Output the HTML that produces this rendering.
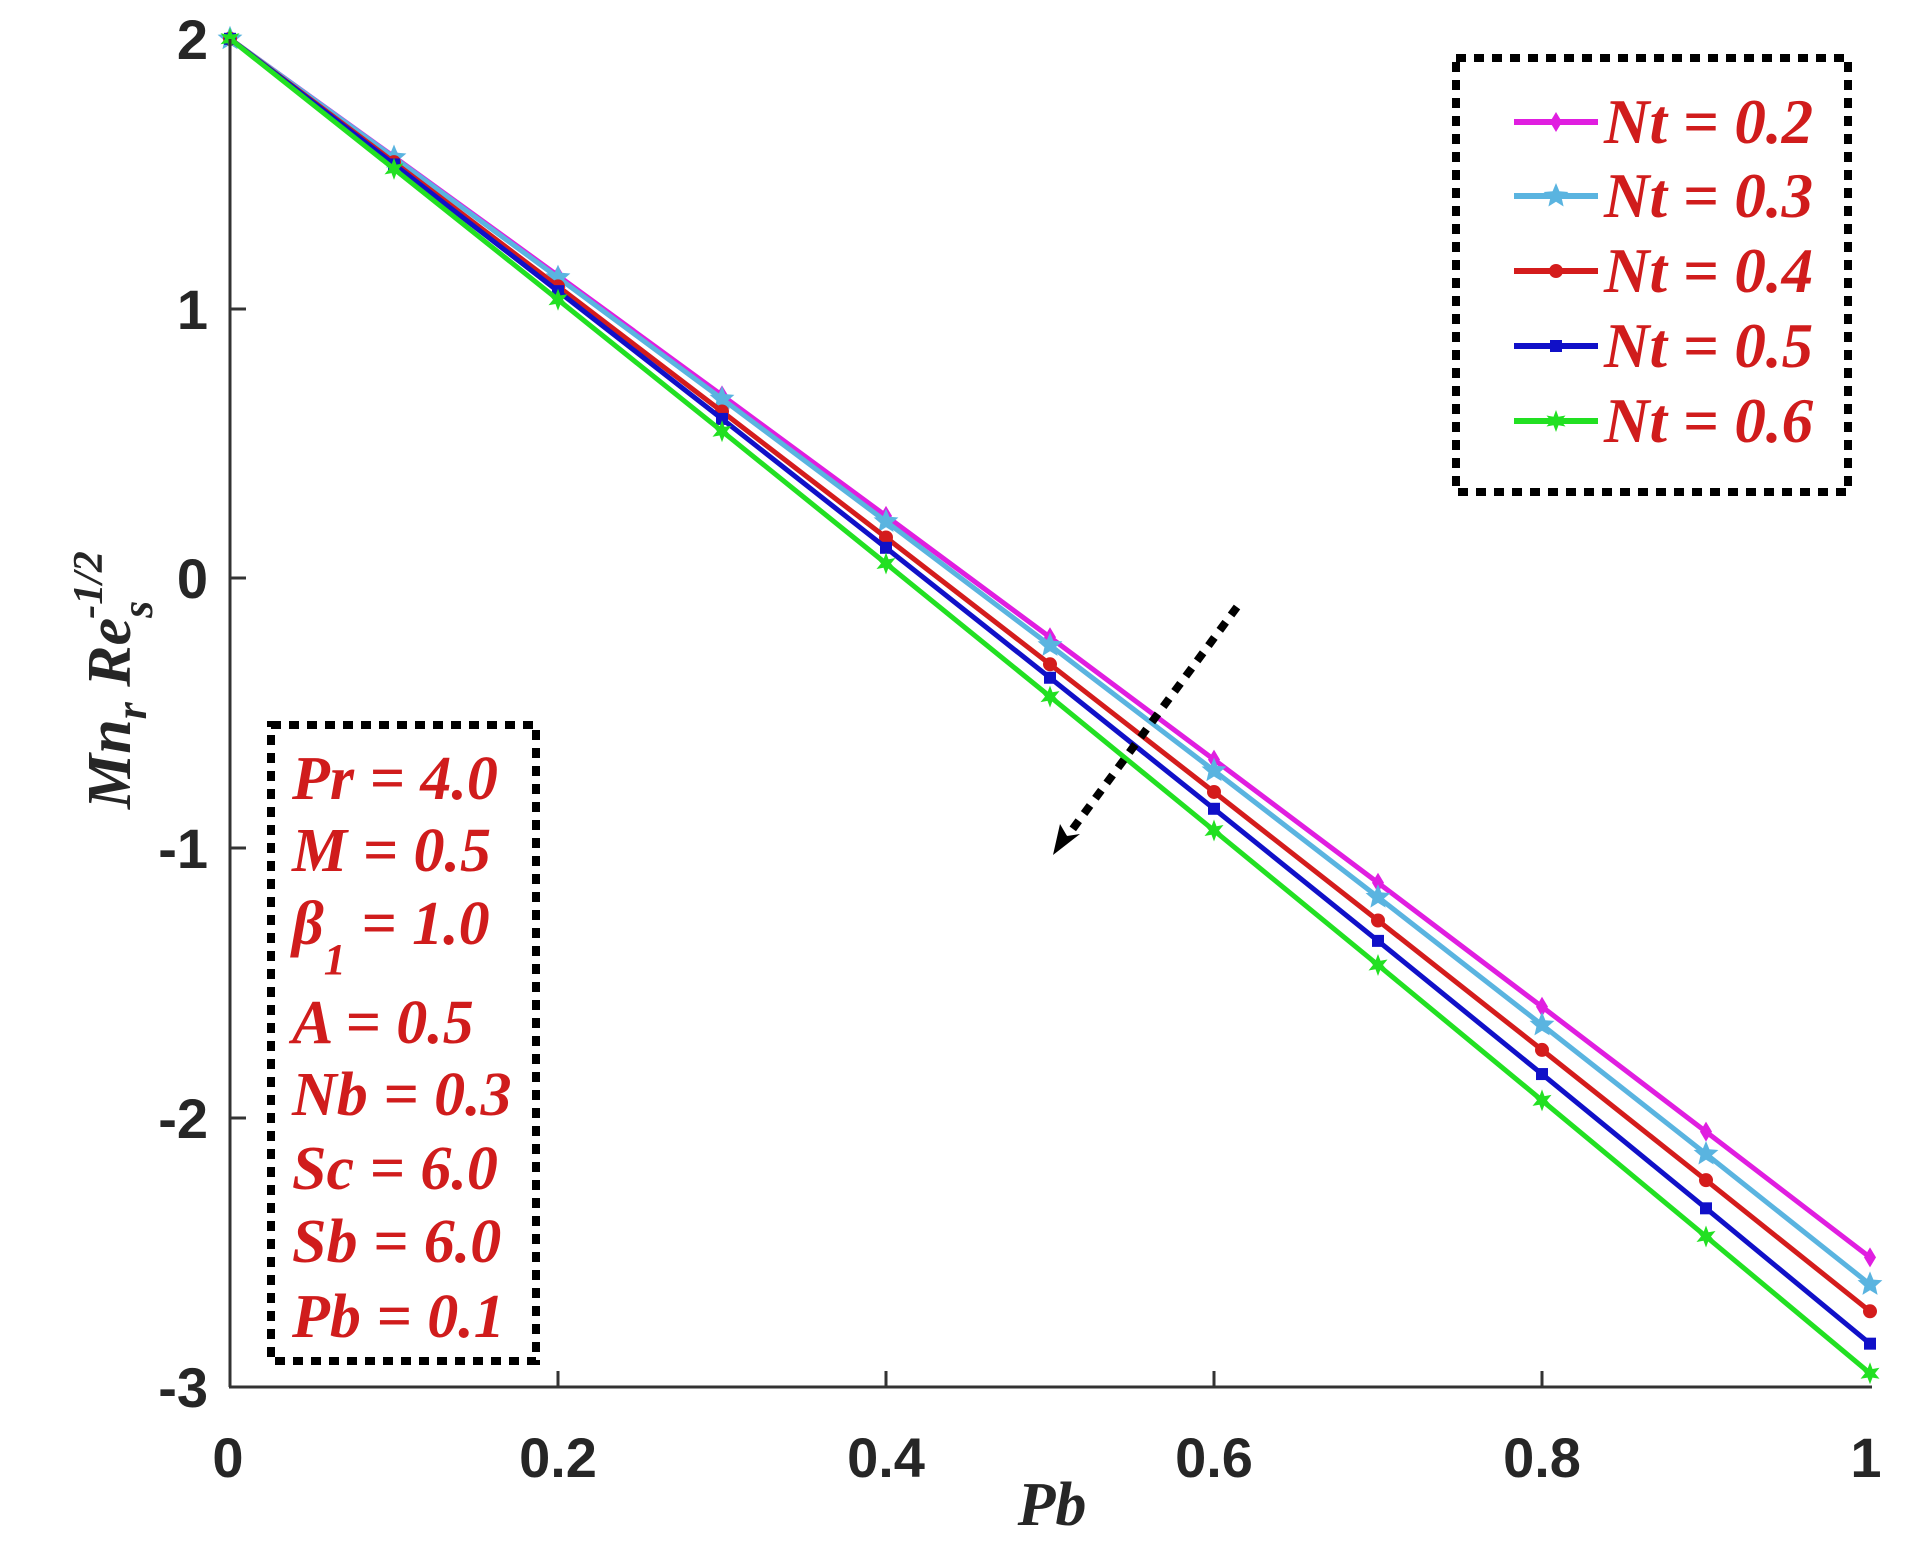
<!DOCTYPE html>
<html><head><meta charset="utf-8">
<style>
html,body{margin:0;padding:0;background:#fff;}
svg{display:block;}
.tk{font-family:"Liberation Sans",sans-serif;font-weight:bold;font-size:56px;fill:#262626;}
.it{font-family:"Liberation Serif",serif;font-style:italic;font-weight:bold;}
.red{fill:#d01c1c;}
</style></head><body>
<svg id="s" width="1910" height="1564" xmlns="http://www.w3.org/2000/svg">
<rect width="1910" height="1564" fill="#fff"/>
<g id="series"></g>
<line x1="230" y1="39" x2="230" y2="1387" stroke="#333" stroke-width="3"/>
<line x1="229" y1="1387" x2="1872" y2="1387" stroke="#333" stroke-width="3"/>
<g stroke="#333" stroke-width="3">
<line x1="230" y1="309" x2="246" y2="309"/><line x1="230" y1="578" x2="246" y2="578"/>
<line x1="230" y1="848" x2="246" y2="848"/><line x1="230" y1="1118" x2="246" y2="1118"/>
<line x1="558" y1="1387" x2="558" y2="1371"/><line x1="886" y1="1387" x2="886" y2="1371"/>
<line x1="1214" y1="1387" x2="1214" y2="1371"/><line x1="1542" y1="1387" x2="1542" y2="1371"/>
</g>
<g class="tk" text-anchor="end">
<text x="208" y="59">2</text><text x="208" y="329">1</text><text x="208" y="598">0</text>
<text x="208" y="868">-1</text><text x="208" y="1138">-2</text><text x="208" y="1407">-3</text>
</g>
<g class="tk" text-anchor="middle">
<text x="228" y="1477">0</text><text x="558" y="1477">0.2</text><text x="886" y="1477">0.4</text>
<text x="1214" y="1477">0.6</text><text x="1542" y="1477">0.8</text><text x="1866" y="1477">1</text>
</g>
<text class="it" x="1052" y="1525" font-size="62" text-anchor="middle" fill="#262626">Pb</text>
<g transform="translate(130,680) rotate(-90)">
<text class="it" font-size="62" fill="#262626" text-anchor="middle">Mn<tspan font-size="44" dy="16">r</tspan><tspan dy="-16"> Re</tspan><tspan font-size="44" dy="22">s</tspan><tspan font-size="42" dx="-18" dy="-50">-1/2</tspan></text>
</g>
<line x1="1237" y1="607" x2="1066" y2="838" stroke="#000" stroke-width="8" stroke-dasharray="10,9"/>
<polygon points="1053,855 1060,824 1067,836 1080,834" fill="#000"/>
<rect x="1456" y="58" width="392" height="434" fill="#fff" stroke="#000" stroke-width="8" stroke-dasharray="10,8"/>
<g id="leg"></g>
<rect x="271" y="725" width="265" height="636" fill="#fff" stroke="#000" stroke-width="8" stroke-dasharray="10,8"/>
<g class="it red" font-size="62">
<text x="292" y="799">Pr = 4.0</text>
<text x="292" y="871">M = 0.5</text>
<text x="292" y="944">β<tspan font-size="44" dy="30">1</tspan><tspan dy="-30"> = 1.0</tspan></text>
<text x="292" y="1043">A = 0.5</text>
<text x="292" y="1115">Nb = 0.3</text>
<text x="292" y="1189">Sc = 6.0</text>
<text x="292" y="1262">Sb = 6.0</text>
<text x="292" y="1337">Pb = 0.1</text>
</g>
</svg>
<script>
var NS="http://www.w3.org/2000/svg";
function X(v){return 230+v*1640;}
function Y(v){return 578-v*269.6;}
var ser=[
 {c:"#e01ee0",b:-4.36,q:-0.16,m:"d",lab:"0.2"},
 {c:"#5ab4e0",b:-4.38,q:-0.24,m:"p",lab:"0.3"},
 {c:"#d41c1c",b:-4.56,q:-0.16,m:"o",lab:"0.4"},
 {c:"#1010c8",b:-4.64,q:-0.20,m:"s",lab:"0.5"},
 {c:"#22e022",b:-4.81,q:-0.14,m:"h",lab:"0.6"}];
function el(t,a,p){var e=document.createElementNS(NS,t);for(var k in a)e.setAttribute(k,a[k]);p.appendChild(e);return e;}
function star(cx,cy,r,n){var p=[];for(var i=0;i<2*n;i++){var rr=i%2?r*0.45:r;var a=-Math.PI/2+i*Math.PI/n;p.push((cx+rr*Math.cos(a)).toFixed(1)+","+(cy+rr*Math.sin(a)).toFixed(1));}return p.join(" ");}
function marker(g,m,x,y,c){
 if(m=="d")el("polygon",{points:(x)+","+(y-10)+" "+(x+6)+","+y+" "+x+","+(y+10)+" "+(x-6)+","+y,fill:c},g);
 else if(m=="p")el("polygon",{points:star(x,y,13,5),fill:c},g);
 else if(m=="o")el("circle",{cx:x,cy:y,r:7,fill:c},g);
 else if(m=="s")el("rect",{x:x-6,y:y-6,width:12,height:12,fill:c},g);
 else el("polygon",{points:star(x,y,11,6),fill:c},g);
}
var g=document.getElementById("series");
ser.forEach(function(s){
 var pts=[];for(var i=0;i<=10;i++){var v=i/10;pts.push([X(v),Y(2+s.b*v+s.q*v*v)]);}
 el("polyline",{points:pts.map(function(p){return p[0].toFixed(1)+","+p[1].toFixed(1)}).join(" "),fill:"none",stroke:s.c,"stroke-width":5},g);
 pts.forEach(function(p){marker(g,s.m,p[0],p[1],s.c);});
});
var lg=document.getElementById("leg");
var ys=[122,196,271,346,421];
ser.forEach(function(s,i){
 el("line",{x1:1514,y1:ys[i],x2:1598,y2:ys[i],stroke:s.c,"stroke-width":6},lg);
 marker(lg,s.m,1556,ys[i],s.c);
 var t=el("text",{x:1604,y:ys[i]+21,"font-size":63,"class":"it red"},lg);
 t.textContent="Nt = "+s.lab;
});
</script>
</body></html>
